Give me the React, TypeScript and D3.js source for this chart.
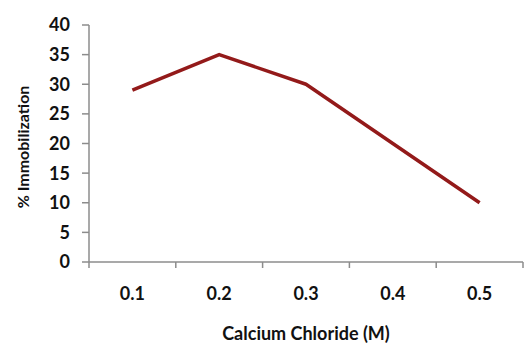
import React from "react";
import * as d3 from "d3";

const categories = ["0.1", "0.2", "0.3", "0.4", "0.5"];
const values = [29, 35, 30, 20, 10];
const yTicks = [0, 5, 10, 15, 20, 25, 30, 35, 40];
const xTitle = "Calcium Chloride (M)";
const yTitle = "% Immobilization";

export default function App() {
  const W = 524, H = 343;
  const left = 89, right = 523, top = 25, bottom = 262;
  const x = d3.scaleBand().domain(categories).range([left, right]);
  const y = d3.scaleLinear().domain([0, 40]).range([bottom, top]);
  const line = d3
    .line<number>()
    .x((_, i) => (x(categories[i]) as number) + x.bandwidth() / 2)
    .y((d) => y(d));
  const font = "Lato, 'Open Sans', sans-serif";
  const axisColor = "#8c8c8c";
  const boundaries = [...categories.map((c) => x(c) as number), right];
  return (
    <svg width={W} height={H} style={{ position: "absolute", left: 0, top: 0, background: "#fff" }}>
      {/* y axis */}
      <line x1={left} x2={left} y1={top} y2={bottom} stroke={axisColor} strokeWidth={1.5} />
      {yTicks.map((t) => (
        <g key={t}>
          <line x1={left - 7} x2={left} y1={y(t)} y2={y(t)} stroke={axisColor} strokeWidth={1.5} />
          <text
            x={70}
            y={y(t)}
            dy="0.36em"
            textAnchor="end"
            fontFamily={font}
            fontWeight={700}
            fontSize={18}
            fill="#111"
          >
            {t}
          </text>
        </g>
      ))}
      {/* x axis */}
      <line x1={left} x2={right} y1={bottom} y2={bottom} stroke={axisColor} strokeWidth={1.5} />
      {boundaries.map((b, i) => (
        <line key={i} x1={b} x2={b} y1={bottom} y2={bottom + 6} stroke={axisColor} strokeWidth={1.5} />
      ))}
      {categories.map((c) => (
        <text
          key={c}
          x={(x(c) as number) + x.bandwidth() / 2}
          y={300}
          textAnchor="middle"
          fontFamily={font}
          fontWeight={700}
          fontSize={18}
          fill="#111"
        >
          {c}
        </text>
      ))}
      <text
        x={306}
        y={340}
        textAnchor="middle"
        fontFamily={font}
        fontWeight={700}
        fontSize={18}
        fill="#111"
      >
        {xTitle}
      </text>
      <text
        transform={`translate(29,147) rotate(-90)`}
        textAnchor="middle"
        fontFamily={font}
        fontWeight={700}
        fontSize={16}
        fill="#111"
      >
        {yTitle}
      </text>
      <path d={line(values) ?? ""} fill="none" stroke="#931a1a" strokeWidth={3.5} strokeLinejoin="round" />
    </svg>
  );
}
